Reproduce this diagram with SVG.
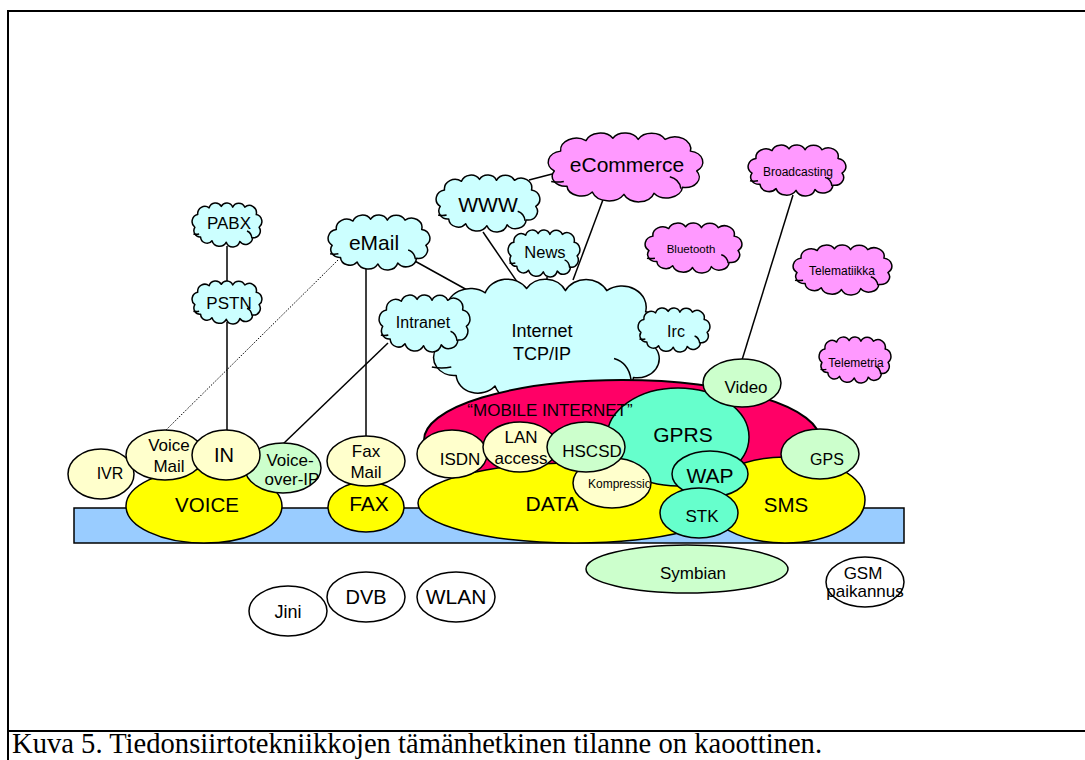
<svg xmlns="http://www.w3.org/2000/svg" width="1085" height="760" viewBox="0 0 1085 760">
<style>
text{font-family:"Liberation Sans",Arial,sans-serif;fill:#000;text-anchor:middle}
.o{stroke:#000;stroke-width:1.5}
.c{stroke:#000;stroke-width:1.5;vector-effect:non-scaling-stroke;stroke-linejoin:round}
.h{fill:none}
.ln{stroke:#000;stroke-width:1.5;fill:none}
.dot{stroke:#000;stroke-width:1;fill:none;stroke-dasharray:1.5 1.5}
.cy{fill:#ccffff}
.pk{fill:#ff99ff}
.ye{fill:#ffff00}
.ly{fill:#ffffcc}
.lg{fill:#ccffcc}
.tq{fill:#66ffcc}
.wh{fill:#ffffff}
.cap{font-family:"Liberation Serif","Times New Roman",serif;text-anchor:start}
</style>
<defs>
<g id="cloud">
<path class="c" d="M 5 35 A 9.5 9.5 0 0 1 9 18 A 10 10 0 0 1 25 9 A 9.5 9.5 0 0 1 42 7 A 9 9 0 0 1 58 8 A 9.5 9.5 0 0 1 75 8 A 10 10 0 0 1 91 18 A 9.5 9.5 0 0 1 95 35 A 9 9 0 0 1 86 49 A 10 10 0 0 1 68 54 A 10 10 0 0 1 49 55 A 11 11 0 0 1 29 53 A 9 9 0 0 1 13 48 A 8.5 8.5 0 0 1 5 35 Z"/>
<path class="c h" d="M 78 40 Q 84 42 85 50 M 3 44 Q 7 45 11 44"/>
</g>
<clipPath id="kclip"><ellipse cx="612" cy="483" rx="38" ry="24"/></clipPath>
</defs>

<g id="frame">
<path d="M 8 760 V 11 H 1085" fill="none" stroke="#000" stroke-width="2"/>
<line x1="8" y1="731" x2="1085" y2="731" stroke="#000" stroke-width="2"/>
</g>

<g id="connectors">
<line class="ln" x1="227" y1="246" x2="227" y2="282"/>
<line class="ln" x1="227" y1="322" x2="227" y2="431"/>
<line class="dot" x1="338" y1="260" x2="166" y2="430"/>
<line class="ln" x1="366" y1="268" x2="366" y2="437"/>
<line class="ln" x1="413" y1="260" x2="478" y2="296"/>
<line class="ln" x1="388" y1="343" x2="283" y2="444"/>
<line class="ln" x1="483" y1="232" x2="522" y2="289"/>
<line class="ln" x1="547" y1="277" x2="547" y2="293"/>
<line class="ln" x1="604" y1="197" x2="573" y2="280"/>
<line class="ln" x1="529" y1="180" x2="556" y2="173"/>
<line class="ln" x1="793" y1="195" x2="742" y2="360"/>
</g>

<g id="bus"><rect x="74" y="508" width="830" height="35" fill="#99ccff" stroke="#000" stroke-width="1.5"/></g>

<g id="internet"><use href="#cloud" class="cy" transform="translate(427 279) scale(2.429 2.119) translate(-1 -2.5)"/>
<text x="542" y="337" font-size="18">Internet</text><text x="542" y="360" font-size="18">TCP/IP</text></g>
<g id="intranet"><use href="#cloud" class="cy" transform="translate(379 295) scale(0.929 0.966) translate(-1 -2.5)"/><text x="423" y="328" font-size="16">Intranet</text></g>
<g id="irc"><use href="#cloud" class="cy" transform="translate(638 308) scale(0.735 0.746) translate(-1 -2.5)"/><text x="676" y="337" font-size="16">Irc</text></g>
<g id="pabx"><use href="#cloud" class="cy" transform="translate(192 203) scale(0.714 0.746) translate(-1 -2.5)"/><text x="229" y="229" font-size="17">PABX</text></g>
<g id="pstn"><use href="#cloud" class="cy" transform="translate(192 281) scale(0.714 0.729) translate(-1 -2.5)"/><text x="229" y="309" font-size="17">PSTN</text></g>
<g id="email"><use href="#cloud" class="cy" transform="translate(328 215) scale(1.041 0.932) translate(-1 -2.5)"/><text x="374" y="250" font-size="21">eMail</text></g>
<g id="www"><use href="#cloud" class="cy" transform="translate(436 175) scale(1.061 0.966) translate(-1 -2.5)"/><text x="488" y="212" font-size="21">WWW</text></g>
<g id="news"><use href="#cloud" class="cy" transform="translate(508 230) scale(0.735 0.797) translate(-1 -2.5)"/><text x="545" y="258" font-size="16.5">News</text></g>
<g id="ecommerce"><use href="#cloud" class="pk" transform="translate(548 133) scale(1.582 1.169) translate(-1 -2.5)"/><text x="627" y="172" font-size="21">eCommerce</text></g>
<g id="bluetooth"><use href="#cloud" class="pk" transform="translate(645 223) scale(0.990 0.847) translate(-1 -2.5)"/><text x="691" y="253" font-size="11.5">Bluetooth</text></g>
<g id="broadcasting"><use href="#cloud" class="pk" transform="translate(748 145) scale(1.0 0.864) translate(-1 -2.5)"/><text x="798" y="176" font-size="12">Broadcasting</text></g>
<g id="telematiikka"><use href="#cloud" class="pk" transform="translate(793 245) scale(1.010 0.847) translate(-1 -2.5)"/><text x="842" y="275" font-size="12">Telematiikka</text></g>
<g id="telemetria"><use href="#cloud" class="pk" transform="translate(819 337) scale(0.735 0.780) translate(-1 -2.5)"/><text x="856" y="367" font-size="12">Telemetria</text></g>

<g id="mobile-internet"><ellipse cx="622" cy="440" rx="198" ry="60" fill="#ff0066" stroke="#000" stroke-width="2"/></g>

<g id="voice"><ellipse class="o ye" cx="204" cy="506" rx="78" ry="37"/><text x="207" y="512" font-size="20.5">VOICE</text></g>
<g id="ivr"><ellipse class="o ly" cx="101" cy="474" rx="33" ry="25"/><text x="110" y="479" font-size="16">IVR</text></g>
<g id="voice-over-ip"><ellipse class="o lg" cx="283" cy="468" rx="38" ry="25"/><text x="290" y="466" font-size="17">Voice-</text><text x="292" y="485" font-size="17">over-IP</text></g>
<g id="voice-mail"><ellipse class="o ly" cx="165" cy="455" rx="39" ry="25"/><text x="169" y="451" font-size="17">Voice</text><text x="169" y="472" font-size="17">Mail</text></g>
<g id="in"><ellipse class="o ly" cx="226" cy="455" rx="34" ry="25"/><text x="224" y="462" font-size="20">IN</text></g>

<g id="fax"><ellipse class="o ye" cx="366" cy="507" rx="38" ry="25"/><text x="369" y="511" font-size="21">FAX</text></g>
<g id="fax-mail"><ellipse class="o ly" cx="366" cy="461" rx="39" ry="25"/><text x="366" y="457" font-size="17">Fax</text><text x="366" y="478" font-size="17">Mail</text></g>

<g id="data"><ellipse class="o ye" cx="575" cy="503" rx="157" ry="40"/><text x="552" y="511" font-size="21">DATA</text></g>
<g id="sms"><ellipse class="o ye" cx="785" cy="500" rx="80" ry="43"/><text x="786" y="512" font-size="20.5">SMS</text></g>
<g id="gprs"><ellipse class="o tq" cx="678" cy="437" rx="71" ry="49"/><text x="683" y="442" font-size="21">GPRS</text></g>
<g id="mobile-internet-label"><text x="550" y="416" font-size="17">“MOBILE INTERNET”</text></g>
<g id="isdn"><ellipse class="o ly" cx="452" cy="454" rx="35" ry="24"/><text x="460" y="465" font-size="17">ISDN</text></g>
<g id="lan-access"><ellipse class="o ly" cx="520" cy="447" rx="37" ry="25"/><text x="521" y="443" font-size="17">LAN</text><text x="521" y="464" font-size="17">access</text></g>
<g id="kompressio"><ellipse class="o ly" cx="612" cy="483" rx="39" ry="25"/><text x="588" y="488" font-size="12" style="text-anchor:start" clip-path="url(#kclip)">Kompressio</text></g>
<g id="hscsd"><ellipse class="o lg" cx="586" cy="447" rx="39" ry="25"/><text x="592" y="457" font-size="17">HSCSD</text></g>
<g id="wap"><ellipse class="o tq" cx="710" cy="474" rx="38" ry="23"/><text x="710" y="483" font-size="21">WAP</text></g>
<g id="stk"><ellipse class="o tq" cx="699" cy="513" rx="39" ry="25"/><text x="702" y="522" font-size="17">STK</text></g>
<g id="gps"><ellipse class="o lg" cx="820" cy="454" rx="39" ry="25"/><text x="827" y="465" font-size="16">GPS</text></g>
<g id="video"><ellipse class="o lg" cx="742" cy="383" rx="39" ry="24"/><text x="746" y="393" font-size="17">Video</text></g>

<g id="symbian"><ellipse class="o lg" cx="687" cy="569" rx="101" ry="24"/><text x="693" y="579" font-size="17">Symbian</text></g>
<g id="gsm-paikannus"><ellipse class="o wh" cx="865" cy="582" rx="39" ry="25"/><text x="863" y="579" font-size="17">GSM</text><text x="865" y="597" font-size="17">paikannus</text></g>
<g id="jini"><ellipse class="o wh" cx="288" cy="611" rx="39" ry="25"/><text x="288" y="618" font-size="18">Jini</text></g>
<g id="dvb"><ellipse class="o wh" cx="366" cy="597" rx="39" ry="25"/><text x="366" y="604" font-size="20">DVB</text></g>
<g id="wlan"><ellipse class="o wh" cx="456" cy="597" rx="39" ry="25"/><text x="456" y="604" font-size="21">WLAN</text></g>

<g id="caption"><text class="cap" x="12" y="753" font-size="28.6">Kuva 5. Tiedonsiirtotekniikkojen tämänhetkinen tilanne on kaoottinen.</text></g>
</svg>
